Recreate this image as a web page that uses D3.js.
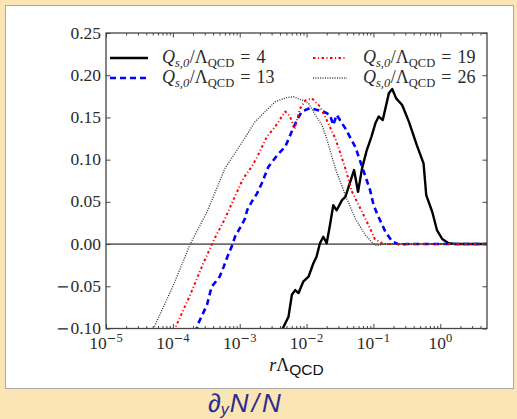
<!DOCTYPE html>
<html><head><meta charset="utf-8">
<script src="https://cdn.jsdelivr.net/npm/d3@7"></script>
<style>
html,body{margin:0;padding:0;background:#fbe5b5;}
svg{display:block;}
</style></head><body>
<svg id="c" width="517" height="419"></svg>
<script>
// ---- data ----
const seriesNames = ["4", "13", "19", "26"];
const r4 = [3.98e-3,4.27e-3,5.37e-3,6.03e-3,6.76e-3,7.59e-3,8.91e-3,1.07e-2,1.26e-2,1.41e-2,1.585e-2,1.78e-2,2.00e-2,2.24e-2,2.51e-2,2.82e-2,3.39e-2,3.80e-2,4.27e-2,5.13e-2,5.89e-2,6.76e-2,7.94e-2,9.33e-2,0.107,0.120,0.138,0.170,0.191,0.219,0.269,0.339,0.447,0.562,0.617,0.759,0.891,1.07,1.33,1.78,5.0];
const v4 = [-0.108,-0.102,-0.086,-0.060,-0.0545,-0.058,-0.0446,-0.0387,-0.023,-0.015,0.001,0.0087,0.001,0.0225,0.046,0.040,0.052,0.056,0.068,0.0877,0.062,0.0897,0.111,0.127,0.143,0.151,0.147,0.1785,0.1836,0.1726,0.1647,0.145,0.117,0.0956,0.058,0.038,0.0166,0.006,0.001,0,0];
const r13 = [2.19e-4,2.40e-4,3.24e-4,3.80e-4,5.01e-4,5.75e-4,6.61e-4,7.59e-4,8.51e-4,1.0e-3,1.20e-3,1.29e-3,1.51e-3,1.82e-3,2.14e-3,2.69e-3,3.80e-3,4.79e-3,5.69e-3,7.16e-3,8.51e-3,1.12e-2,1.78e-2,2.24e-2,2.51e-2,2.82e-2,3.80e-2,5.37e-2,7.08e-2,8.91e-2,0.1,0.112,0.151,0.191,0.251,0.316,5.0];
const v13 = [-0.105,-0.094,-0.072,-0.0506,-0.0387,-0.027,-0.014,-0.003,0.0087,0.0186,0.030,0.040,0.050,0.060,0.072,0.0916,0.107,0.115,0.129,0.147,0.157,0.161,0.157,0.153,0.141,0.153,0.137,0.115,0.087,0.064,0.047,0.037,0.0146,0.003,-0.001,0,0];
const r19 = [1.02e-4,1.12e-4,1.82e-4,2.88e-4,4.17e-4,6.03e-4,8.32e-4,1.135e-3,1.51e-3,1.82e-3,2.54e-3,3.39e-3,4.79e-3,5.62e-3,6.61e-3,7.94e-3,9.55e-3,1.20e-2,1.585e-2,2.00e-2,2.69e-2,3.16e-2,3.80e-2,4.79e-2,6.76e-2,8.91e-2,0.105,0.141,5.0];
const v19 = [-0.103,-0.097,-0.060,-0.022,0.006,0.030,0.055,0.078,0.0916,0.103,0.127,0.139,0.157,0.152,0.136,0.160,0.170,0.1726,0.163,0.147,0.125,0.109,0.0897,0.062,0.038,0.0186,0.006,0,0];
const r26 = [4.68e-5,5.13e-5,1.02e-4,1.82e-4,3.24e-4,6.03e-4,1.135e-3,1.70e-3,3.39e-3,5.01e-3,6.37e-3,8.91e-3,1.07e-2,1.35e-2,1.70e-2,2.00e-2,2.69e-2,3.80e-2,5.37e-2,7.59e-2,9.55e-2,0.112,0.141,5.0];
const v26 = [-0.105,-0.100,-0.0486,0,0.038,0.0897,0.123,0.145,0.1686,0.1735,0.1745,0.170,0.1667,0.153,0.141,0.125,0.0897,0.058,0.030,0.0107,0.002,-0.002,0,0];
const yTicks = [-0.10,-0.05,0,0.05,0.10,0.15,0.20,0.25];
const yTickLabels = ["−0.10","−0.05","0.00","0.05","0.10","0.15","0.20","0.25"];
const xTicks = [1e-5,1e-4,1e-3,1e-2,1e-1,1];
const xTickExps = ["−5","−4","−3","−2","−1","0"];
const xDomain = [1e-5, 5];
const yDomain = [-0.10, 0.25];

// ---- layout ----
const L = 106, R = 487, T = 33, B = 328.5;
const svg = d3.select("#c");
svg.append("rect").attr("x",0).attr("y",0).attr("width",517).attr("height",419).attr("fill","#fbe5b5");
svg.append("rect").attr("x",5.5).attr("y",5.5).attr("width",508).attr("height",383)
  .attr("fill","#fff").attr("stroke","#a9a9a9").attr("stroke-width",1);

const x = d3.scaleLog().domain(xDomain).range([L, R]);
const y = d3.scaleLinear().domain(yDomain).range([B, T]);

svg.append("clipPath").attr("id","clip").append("rect")
  .attr("x",L).attr("y",T).attr("width",R-L).attr("height",B-T);

// zero line
svg.append("line").attr("x1",L).attr("x2",R).attr("y1",y(0)).attr("y2",y(0))
  .attr("stroke","#000").attr("stroke-width",1);

const styles = [
  {r:r4, v:v4, stroke:"#000", w:2.4, dash:null},
  {r:r13, v:v13, stroke:"#0000ff", w:2.6, dash:"6,4"},
  {r:r19, v:v19, stroke:"#ff0000", w:2, dash:"2.5,2.5,1,2.5"},
  {r:r26, v:v26, stroke:"#3a3a3a", w:1.4, dash:"1,1.4"}
];
const line = d3.line().x(d=>x(d[0])).y(d=>y(d[1]));
const gPlot = svg.append("g").attr("clip-path","url(#clip)");
styles.forEach(s=>{
  const pts = s.r.map((rv,i)=>[rv, s.v[i]]);
  gPlot.append("path").attr("d", line(pts)).attr("fill","none")
    .attr("stroke", s.stroke).attr("stroke-width", s.w)
    .attr("stroke-linejoin","round")
    .attr("stroke-dasharray", s.dash);
});

// axes ticks (inward)
const tickCol = "#444";
const minor = [];
for (let e=-5; e<=0; e++) for (let m=2; m<=9; m++) { const v = m*Math.pow(10,e); if (v < 5) minor.push(v); }
function styleAxis(g){ g.select(".domain").remove(); g.selectAll("line").attr("stroke",tickCol); g.selectAll("text").remove(); }
svg.append("g").attr("transform",`translate(0,${B})`).call(d3.axisBottom(x).tickValues(xTicks).tickSize(-4.5).tickFormat("")).call(styleAxis);
svg.append("g").attr("transform",`translate(0,${B})`).call(d3.axisBottom(x).tickValues(minor).tickSize(-2.5).tickFormat("")).call(styleAxis);
svg.append("g").attr("transform",`translate(0,${T})`).call(d3.axisTop(x).tickValues(xTicks).tickSize(-4.5).tickFormat("")).call(styleAxis);
svg.append("g").attr("transform",`translate(0,${T})`).call(d3.axisTop(x).tickValues(minor).tickSize(-2.5).tickFormat("")).call(styleAxis);
svg.append("g").attr("transform",`translate(${L},0)`).call(d3.axisLeft(y).tickValues(yTicks).tickSize(-4.5).tickFormat("")).call(styleAxis);
svg.append("g").attr("transform",`translate(${R},0)`).call(d3.axisRight(y).tickValues(yTicks).tickSize(-4.5).tickFormat("")).call(styleAxis);

// frame
svg.append("rect").attr("x",L).attr("y",T).attr("width",R-L).attr("height",B-T)
  .attr("fill","none").attr("stroke",tickCol).attr("stroke-width",1.3);

const serif = "'Liberation Serif', 'DejaVu Serif', serif";
const minusFont = "'DejaVu Serif', serif";
const txtCol = "#2a2a2a";
// y tick labels
yTicks.forEach((v,i)=>{
  const lab = yTickLabels[i];
  const t = svg.append("text").attr("x",L-5).attr("y",y(v)+5.5).attr("text-anchor","end")
    .attr("font-family",serif).attr("font-size",17.5).attr("fill",txtCol);
  if (lab[0]==="−") { t.append("tspan").attr("font-family",minusFont).attr("font-size",16).text("−"); t.append("tspan").attr("dx",1).text(lab.slice(1)); }
  else t.text(lab);
});
// x tick labels
xTicks.forEach((v,i)=>{
  const t = svg.append("text").attr("x",x(v)).attr("y",B+20.5).attr("text-anchor","middle")
    .attr("font-family",serif).attr("font-size",17.5).attr("fill",txtCol);
  t.append("tspan").text("10");
  const e = xTickExps[i];
  if (e[0]==="−") {
    t.append("tspan").attr("font-family",minusFont).attr("font-size",11.5).attr("dy",-7).text("−");
    t.append("tspan").attr("font-size",12.5).text(e.slice(1));
  } else {
    t.append("tspan").attr("font-size",12.5).attr("dy",-7).text(e);
  }
});
// x axis label
{
  const t = svg.append("text").attr("x",(L+R)/2).attr("y",371).attr("text-anchor","middle")
    .attr("font-family",serif).attr("font-size",18).attr("fill","#111");
  t.append("tspan").attr("font-style","italic").text("r");
  t.append("tspan").text("Λ");
  t.append("tspan").attr("font-family","'Liberation Sans', Arial, sans-serif").attr("font-size",15.5).attr("dy",4).text("QCD");
}

// legend
const legendPos = [[110,58,162],[110,78,162],[313,58,363],[313,78,363]];
styles.forEach((s,i)=>{
  const [lx, ly, tx] = legendPos[i];
  const len = i<2 ? 38 : 34;
  svg.append("line").attr("x1",lx).attr("x2",lx+len).attr("y1",ly).attr("y2",ly)
    .attr("stroke",s.stroke).attr("stroke-width",s.w).attr("stroke-dasharray",s.dash);
  const t = svg.append("text").attr("x",tx).attr("y",ly+5).attr("font-family",serif)
    .attr("font-size",18).attr("fill",txtCol);
  t.append("tspan").attr("font-style","italic").text("Q");
  t.append("tspan").attr("font-style","italic").attr("font-size",12.5).attr("dy",4).text("s,0");
  t.append("tspan").attr("dy",-4).attr("dx",0.5).text("/Λ");
  t.append("tspan").attr("font-size",12.5).attr("dy",4).text("QCD");
  t.append("tspan").attr("dy",-4).attr("dx",6).text("=");
  t.append("tspan").attr("dx",6).text(seriesNames[i]);
});

// caption
{
  const t = svg.append("text").attr("x",208).attr("y",412)
    .attr("font-family","'Liberation Sans', Arial, sans-serif").attr("font-size",26)
    .attr("font-style","italic").attr("fill","#2c2c8c");
  t.append("tspan").text("∂");
  t.append("tspan").attr("font-size",16).attr("dy",3).text("y");
  t.append("tspan").attr("dy",-3).attr("dx",1).text("N");
  t.append("tspan").attr("dx",3).text("/");
  t.append("tspan").attr("dx",3).text("N");
}
</script>
</body></html>
